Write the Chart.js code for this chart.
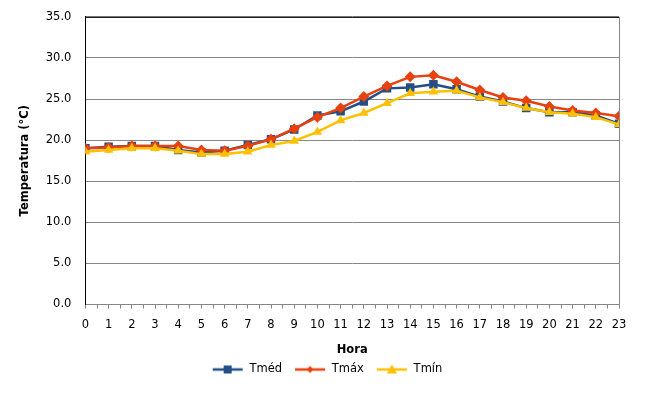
<!DOCTYPE html>
<html>
<head>
<meta charset="utf-8">
<script src="https://cdn.jsdelivr.net/npm/chart.js@4"></script>
<style>
  html, body { margin: 0; padding: 0; background: #ffffff; }
  #wrap { width: 665px; height: 407px; }
</style>
</head>
<body>
<div id="wrap"><canvas id="tempChart"></canvas></div>
<script>
// Horas del día
var horas = [0, 1, 2, 3, 4, 5, 6, 7, 8, 9, 10, 11, 12, 13, 14, 15, 16, 17, 18, 19, 20, 21, 22, 23];

// Temperaturas (°C)
var tMed = [19.0, 19.2, 19.3, 19.3, 18.8, 18.5, 18.7, 19.4, 20.1, 21.3, 23.0, 23.5, 24.7, 26.3, 26.4, 26.8, 26.2, 25.3, 24.7, 23.9, 23.4, 23.4, 23.0, 22.0];
var tMax = [19.0, 19.1, 19.3, 19.3, 19.3, 18.8, 18.7, 19.3, 20.1, 21.4, 22.8, 23.9, 25.3, 26.6, 27.7, 27.9, 27.1, 26.1, 25.2, 24.8, 24.1, 23.6, 23.3, 22.9];
var tMin = [18.6, 18.8, 19.0, 19.0, 18.7, 18.3, 18.3, 18.6, 19.4, 19.9, 21.0, 22.4, 23.3, 24.5, 25.7, 25.9, 26.0, 25.2, 24.6, 23.9, 23.4, 23.2, 22.8, 21.9];

var azul = '#234f85';
var rojo = '#e8410f';
var amarillo = '#ffc000';

function puntos(valores) {
    return horas.map(function (h, i) { return { x: h, y: valores[i] }; });
}

// icono de leyenda: linea con marcador
function iconoLeyenda(color, estilo) {
    var c = document.createElement('canvas');
    c.width = 32;
    c.height = 12;
    var ctx = c.getContext('2d');
    ctx.strokeStyle = color;
    ctx.fillStyle = color;
    ctx.lineWidth = 2.5;
    ctx.beginPath();
    ctx.moveTo(1, 6);
    ctx.lineTo(31, 6);
    ctx.stroke();
    ctx.beginPath();
    if (estilo === 'rect') {
        ctx.rect(12, 2, 8, 8);
    } else if (estilo === 'rectRot') {
        ctx.moveTo(16, 2.5); ctx.lineTo(19.5, 6); ctx.lineTo(16, 9.5); ctx.lineTo(12.5, 6);
        ctx.closePath();
    } else {
        ctx.moveTo(16, 1); ctx.lineTo(21, 10); ctx.lineTo(11, 10);
        ctx.closePath();
    }
    ctx.fill();
    return c;
}

// borde superior negro y derecho gris del area de trazado
var bordePlot = {
    id: 'bordePlot',
    afterLayout: function (chart) {
        // la leyenda del original va algo desplazada a la derecha
        chart.legend.left += 12;
        chart.legend.right += 12;
    },
    afterDraw: function (chart) {
        var a = chart.chartArea;
        var ctx = chart.ctx;
        ctx.save();
        ctx.lineWidth = 1;
        ctx.strokeStyle = '#000000';
        ctx.beginPath();
        ctx.moveTo(a.left, a.top + 0.5);
        ctx.lineTo(a.right, a.top + 0.5);
        ctx.stroke();
        ctx.strokeStyle = '#868686';
        ctx.beginPath();
        ctx.moveTo(a.right + 0.5, a.top);
        ctx.lineTo(a.right + 0.5, a.bottom);
        ctx.stroke();
        ctx.restore();
    }
};

Chart.defaults.font.family = '"DejaVu Sans", Verdana, sans-serif';
Chart.defaults.font.size = 11.5;
Chart.defaults.color = '#000000';

var ctx = document.getElementById('tempChart').getContext('2d');
var tempChart = new Chart(ctx, {
    type: 'line',
    data: {
        datasets: [{
            label: 'Tméd',
            data: puntos(tMed),
            borderColor: azul,
            backgroundColor: azul,
            borderWidth: 2.5,
            pointStyle: 'rect',
            pointRadius: 6,
            pointBorderWidth: 0,
            order: 2,
            legendIcon: iconoLeyenda(azul, 'rect')
        }, {
            label: 'Tmáx',
            data: puntos(tMax),
            borderColor: rojo,
            backgroundColor: rojo,
            borderWidth: 2.5,
            pointStyle: 'rectRot',
            pointRadius: 5.5,
            pointBorderWidth: 0,
            order: 1,
            legendIcon: iconoLeyenda(rojo, 'rectRot')
        }, {
            label: 'Tmín',
            data: puntos(tMin),
            borderColor: amarillo,
            backgroundColor: amarillo,
            borderWidth: 2.5,
            pointStyle: 'triangle',
            pointRadius: 5.5,
            pointBorderWidth: 0,
            order: 0,
            legendIcon: iconoLeyenda(amarillo, 'triangle')
        }]
    },
    options: {
        responsive: true,
        maintainAspectRatio: false,
        animation: false,
        layout: {
            autoPadding: false,
            padding: { top: 2, right: 46, left: 11, bottom: 21.75 }
        },
        scales: {
            x: {
                type: 'linear',
                min: 0,
                max: 23,
                ticks: {
                    stepSize: 0.5,
                    autoSkip: false,
                    maxRotation: 0,
                    padding: 9.5,
                    callback: function (v) { return Number.isInteger(v) ? v : ''; }
                },
                grid: {
                    drawOnChartArea: false,
                    tickLength: 4,
                    color: '#868686'
                },
                border: { color: '#868686' },
                title: {
                    display: true,
                    text: 'Hora',
                    font: { weight: 'bold' },
                    padding: { top: 2.3, bottom: -5.65 }
                }
            },
            y: {
                min: 0,
                max: 35,
                ticks: {
                    stepSize: 5,
                    padding: 14,
                    font: { lineHeight: 0.5 },
                    callback: function (v) { return v.toFixed(1); }
                },
                grid: {
                    color: '#868686',
                    drawTicks: false
                },
                border: { color: '#000000' },
                title: {
                    display: true,
                    text: 'Temperatura (°C)',
                    font: { weight: 'bold' },
                    padding: { top: 7, bottom: 0 }
                }
            }
        },
        plugins: {
            legend: {
                position: 'bottom',
                labels: {
                    usePointStyle: true,
                    pointStyleWidth: 32,
                    padding: 12,
                    generateLabels: function (chart) {
                        return chart.data.datasets.map(function (ds, i) {
                            return {
                                text: ds.label,
                                pointStyle: ds.legendIcon,
                                datasetIndex: i,
                                fontColor: '#000000',
                                lineWidth: 0,
                                hidden: false
                            };
                        });
                    }
                }
            },
            tooltip: { enabled: false }
        }
    },
    plugins: [bordePlot]
});
</script>
</body>
</html>
